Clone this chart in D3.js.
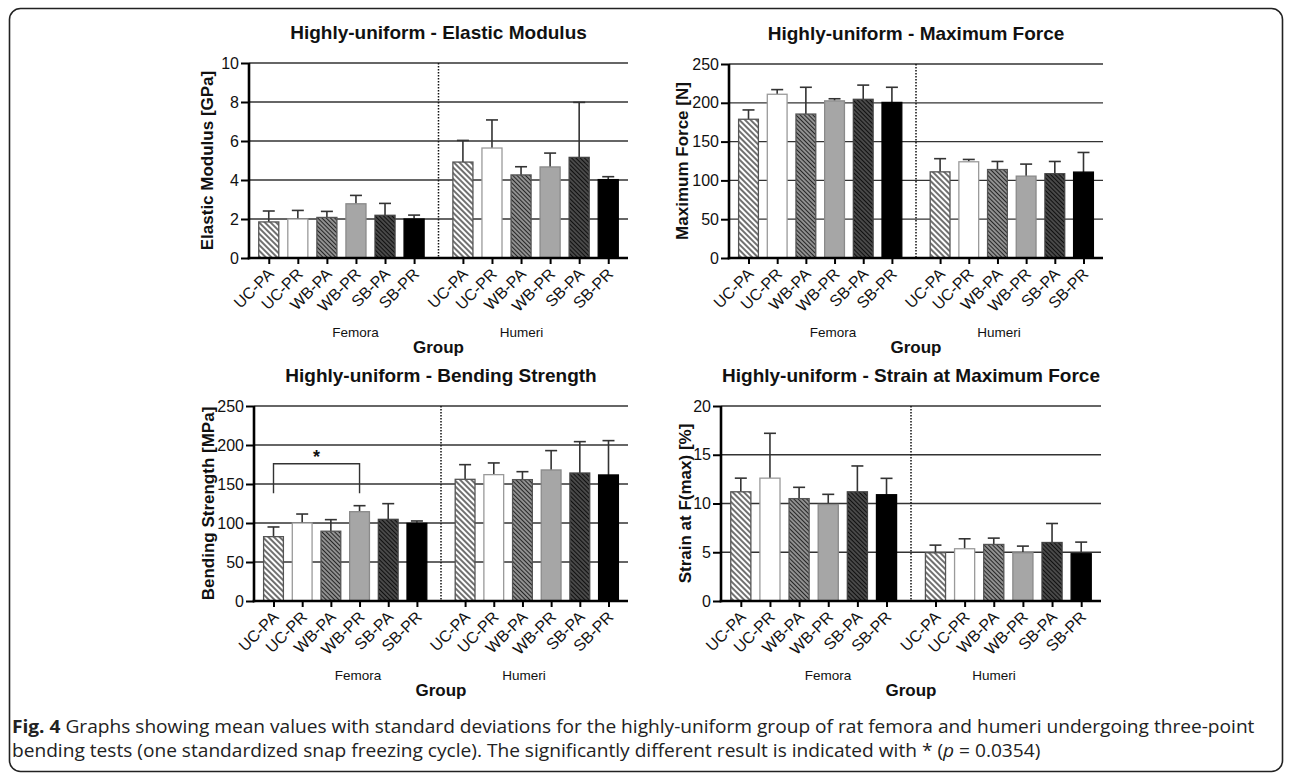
<!DOCTYPE html>
<html>
<head>
<meta charset="utf-8">
<script src="https://cdn.jsdelivr.net/npm/d3@7/dist/d3.min.js"></script>
<style>
  html, body { margin: 0; padding: 0; background: #fff; }
  svg { display: block; }
  text { font-family: "Liberation Sans", Arial, sans-serif; fill: #111; }
  text.caption { font-family: "Open Sans", "Noto Sans", sans-serif; fill: #222; }
</style>
</head>
<body>
<script>
// Groups of specimens and their preparation codes
const categories = ["UC-PA", "UC-PR", "WB-PA", "WB-PR", "SB-PA", "SB-PR"];
const boneGroups = ["Femora", "Humeri"];

const panelTitles = [
  "Highly-uniform - Elastic Modulus",
  "Highly-uniform - Maximum Force",
  "Highly-uniform - Bending Strength",
  "Highly-uniform - Strain at Maximum Force"
];
const yAxisTitles = ["Elastic Modulus [GPa]", "Maximum Force [N]", "Bending Strength [MPa]", "Strain at F(max) [%]"];

// Tick values per panel
const elasticTicks = [0, 2, 4, 6, 8, 10];
const forceTicks = [0, 50, 100, 150, 200, 250];
const strengthTicks = [0, 50, 100, 150, 200, 250];
const strainTicks = [0, 5, 10, 15, 20];

// Means and standard deviations
const elasticFemoraMean = [1.85, 2.0, 2.08, 2.78, 2.19, 2.0];
const elasticFemoraSD   = [0.56, 0.44, 0.31, 0.43, 0.61, 0.2];
const elasticHumeriMean = [4.92, 5.64, 4.26, 4.67, 5.16, 4.02];
const elasticHumeriSD   = [1.11, 1.44, 0.42, 0.71, 2.82, 0.15];

const forceFemoraMean = [178.8, 211, 185.5, 202.5, 204.5, 200.5];
const forceFemoraSD   = [12, 6, 34.5, 2.7, 18.3, 19.5];
const forceHumeriMean = [111, 124, 114, 105.5, 108.6, 110.7];
const forceHumeriSD   = [17, 3, 10.4, 15.5, 15.8, 25.3];

const strengthFemoraMean = [82.5, 100, 89.5, 114.5, 104.7, 99.5];
const strengthFemoraSD   = [12.4, 11.5, 14.8, 7.7, 20.1, 3.1];
const strengthHumeriMean = [156, 162, 155.6, 168, 164.1, 161.6];
const strengthHumeriSD   = [18.8, 15, 10.2, 24.8, 40.2, 44];

const strainFemoraMean = [11.2, 12.6, 10.5, 9.9, 11.2, 10.9];
const strainFemoraSD   = [1.4, 4.6, 1.16, 1.04, 2.65, 1.68];
const strainHumeriMean = [4.95, 5.36, 5.8, 4.95, 6.0, 4.85];
const strainHumeriSD   = [0.78, 1.02, 0.65, 0.68, 1.95, 1.19];

// Significant comparison (bending strength, femora UC-PA vs WB-PR)
const sigLabel = "*";
const sigFrom = "UC-PA";
const sigTo = "WB-PR";
const sigBracketValue = 176;
const sigLegValue = 138;

const panels = [
  { ticks: elasticTicks, means: [elasticFemoraMean, elasticHumeriMean], sds: [elasticFemoraSD, elasticHumeriSD] },
  { ticks: forceTicks, means: [forceFemoraMean, forceHumeriMean], sds: [forceFemoraSD, forceHumeriSD] },
  { ticks: strengthTicks, means: [strengthFemoraMean, strengthHumeriMean], sds: [strengthFemoraSD, strengthHumeriSD] },
  { ticks: strainTicks, means: [strainFemoraMean, strainHumeriMean], sds: [strainFemoraSD, strainHumeriSD] }
];

// Plot frames
const layout = [
  { left: 249, right: 628, top: 63, bottom: 258, yTitleX: 207 },
  { left: 729, right: 1103, top: 64, bottom: 258, yTitleX: 682 },
  { left: 254, right: 628, top: 406, bottom: 601, yTitleX: 208 },
  { left: 721, right: 1101, top: 406, bottom: 601, yTitleX: 685 }
];

const W = 1292, H = 774;
const svg = d3.select("body").append("svg").attr("width", W).attr("height", H);

// Outer frame
svg.append("rect")
  .attr("x", 9.5).attr("y", 8.5).attr("width", 1273).attr("height", 763)
  .attr("rx", 11).attr("fill", "none").attr("stroke", "#222").attr("stroke-width", 1.6);

// Hatch fills
const defs = svg.append("defs");
function hatch(id, bg, line, spacing, width) {
  const p = defs.append("pattern").attr("id", id)
    .attr("patternUnits", "userSpaceOnUse")
    .attr("width", spacing).attr("height", spacing)
    .attr("patternTransform", "rotate(-45)");
  p.append("rect").attr("width", spacing).attr("height", spacing).attr("fill", bg);
  p.append("line").attr("x1", spacing / 2).attr("x2", spacing / 2)
    .attr("y1", -1).attr("y2", spacing + 1)
    .attr("stroke", line).attr("stroke-width", width);
}
hatch("hatchLight", "#ffffff", "#333333", 4, 1.4);
hatch("hatchMid", "#999999", "#262626", 3, 1.15);
hatch("hatchDark", "#555555", "#101010", 3, 1.35);

const fills = ["url(#hatchLight)", "#ffffff", "url(#hatchMid)", "#a6a6a6", "url(#hatchDark)", "#000000"];
const outlines = ["#555", "#9a9a9a", "#555", "#8a8a8a", "#444", "#000"];

const groupOffset = 6.68;
const xPos = (g, i) => g * groupOffset + i;
const dividerPos = 5 + (groupOffset - 5) / 2;

panels.forEach((p, k) => {
  const L = layout[k];
  const g = svg.append("g");
  const x = d3.scaleLinear().domain([-0.68, 11.68 + 0.68]).range([L.left, L.right]);
  const y = d3.scaleLinear().domain([0, d3.max(p.ticks)]).range([L.bottom, L.top]);
  const step = x(1) - x(0);
  const barW = step * 0.69;
  const divX = x(dividerPos);

  // Title
  g.append("text").attr("x", divX).attr("y", L.top - 24)
    .attr("text-anchor", "middle").attr("font-weight", "bold").attr("font-size", 19)
    .text(panelTitles[k]);

  // Horizontal grid
  g.selectAll("line.grid").data(p.ticks.filter(t => t > 0)).join("line")
    .attr("class", "grid")
    .attr("x1", L.left).attr("x2", L.right)
    .attr("y1", d => y(d)).attr("y2", d => y(d))
    .attr("stroke", "#333").attr("stroke-width", 1.3);

  // Divider between bone groups
  g.append("line").attr("x1", divX).attr("x2", divX)
    .attr("y1", L.top).attr("y2", L.bottom)
    .attr("stroke", "#111").attr("stroke-width", 1.5).attr("stroke-dasharray", "1.4,1.6");

  // Bars and error bars
  const rows = [];
  p.means.forEach((arr, gi) => arr.forEach((m, i) => rows.push({ gi, i, m, sd: p.sds[gi][i] })));

  g.selectAll("line.err").data(rows).join("line").attr("class", "err")
    .attr("x1", d => x(xPos(d.gi, d.i))).attr("x2", d => x(xPos(d.gi, d.i)))
    .attr("y1", d => y(d.m)).attr("y2", d => y(d.m + d.sd))
    .attr("stroke", "#333").attr("stroke-width", 1.6);
  g.selectAll("line.cap").data(rows).join("line").attr("class", "cap")
    .attr("x1", d => x(xPos(d.gi, d.i)) - 6).attr("x2", d => x(xPos(d.gi, d.i)) + 6)
    .attr("y1", d => y(d.m + d.sd)).attr("y2", d => y(d.m + d.sd))
    .attr("stroke", "#333").attr("stroke-width", 1.6);

  g.selectAll("rect.bar").data(rows).join("rect").attr("class", "bar")
    .attr("x", d => x(xPos(d.gi, d.i)) - barW / 2)
    .attr("width", barW)
    .attr("y", d => y(d.m))
    .attr("height", d => y(0) - y(d.m))
    .attr("fill", d => fills[d.i])
    .attr("stroke", d => outlines[d.i]).attr("stroke-width", 1.3);

  // Y axis
  const yAxis = d3.axisLeft(y).tickValues(p.ticks).tickSize(8).tickPadding(2).tickFormat(d3.format("d"));
  const ya = g.append("g").attr("transform", `translate(${L.left},0)`).call(yAxis);
  ya.select(".domain").attr("stroke", "#000").attr("stroke-width", 2.6).attr("d", `M0,${L.top}V${L.bottom + 1.3}`);
  ya.selectAll(".tick line").attr("stroke", "#000").attr("stroke-width", 2);
  ya.selectAll(".tick text").attr("font-size", 16).attr("fill", "#111");

  // X axis
  const xTicks = rows.map(d => xPos(d.gi, d.i));
  const xAxis = d3.axisBottom(x).tickValues(xTicks).tickSize(6).tickFormat("");
  const xa = g.append("g").attr("transform", `translate(0,${L.bottom})`).call(xAxis);
  xa.select(".domain").attr("stroke", "#000").attr("stroke-width", 2.6).attr("d", `M${L.left - 1.3},0H${L.right}`);
  xa.selectAll(".tick line").attr("stroke", "#000").attr("stroke-width", 2);

  // Rotated category labels
  g.selectAll("text.cat").data(rows).join("text").attr("class", "cat")
    .attr("text-anchor", "end").attr("font-size", 16)
    .attr("transform", d => `translate(${x(xPos(d.gi, d.i)) + 6},${L.bottom + 17}) rotate(-45)`)
    .text(d => categories[d.i]);

  // Bone group labels and axis title
  boneGroups.forEach((name, gi) => {
    g.append("text").attr("x", divX + (gi === 0 ? -83 : 83)).attr("y", L.bottom + 79)
      .attr("text-anchor", "middle").attr("font-size", 13.5).text(name);
  });
  g.append("text").attr("x", divX).attr("y", L.bottom + 95)
    .attr("text-anchor", "middle").attr("font-weight", "bold").attr("font-size", 17).text("Group");

  // Y axis title
  g.append("text")
    .attr("transform", `translate(${L.yTitleX},${(L.top + L.bottom) / 2}) rotate(-90)`)
    .attr("text-anchor", "middle").attr("dominant-baseline", "central")
    .attr("font-weight", "bold").attr("font-size", 17).text(yAxisTitles[k]);

  // Significance bracket
  if (k === 2) {
    const xa1 = x(xPos(0, categories.indexOf(sigFrom)));
    const xa2 = x(xPos(0, categories.indexOf(sigTo)));
    g.append("path")
      .attr("d", `M${xa1},${y(sigLegValue)}V${y(sigBracketValue)}H${xa2}V${y(sigLegValue)}`)
      .attr("fill", "none").attr("stroke", "#333").attr("stroke-width", 1.4);
    g.append("text").attr("x", (xa1 + xa2) / 2).attr("y", y(sigBracketValue) - 1)
      .attr("text-anchor", "middle").attr("font-weight", "bold").attr("font-size", 18).text(sigLabel);
  }
});

// Figure caption: both lines share one condensed scale, set so the first line spans the text column
const captionParts = [
  [
    { text: "Fig. 4", bold: true },
    { text: " Graphs showing mean values with standard deviations for the highly-uniform group of rat femora and humeri undergoing three-point" }
  ],
  [
    { text: "bending tests (one standardized snap freezing cycle). The significantly different result is indicated with * (" },
    { text: "p", italic: true },
    { text: " = 0.0354)" }
  ]
];
const captionLines = captionParts.map(parts => {
  const t = svg.append("text").attr("class", "caption").attr("font-size", 18).attr("x", 0).attr("y", 0);
  parts.forEach(pt => {
    const s = t.append("tspan").text(pt.text);
    if (pt.bold) s.attr("font-weight", "bold");
    if (pt.italic) s.attr("font-style", "italic");
  });
  return t;
});
const squeeze = 1243 / captionLines[0].node().getComputedTextLength();
captionLines.forEach((t, i) => t.attr("transform", `translate(12,${733 + i * 24}) scale(${squeeze},1)`));
</script>
</body>
</html>
